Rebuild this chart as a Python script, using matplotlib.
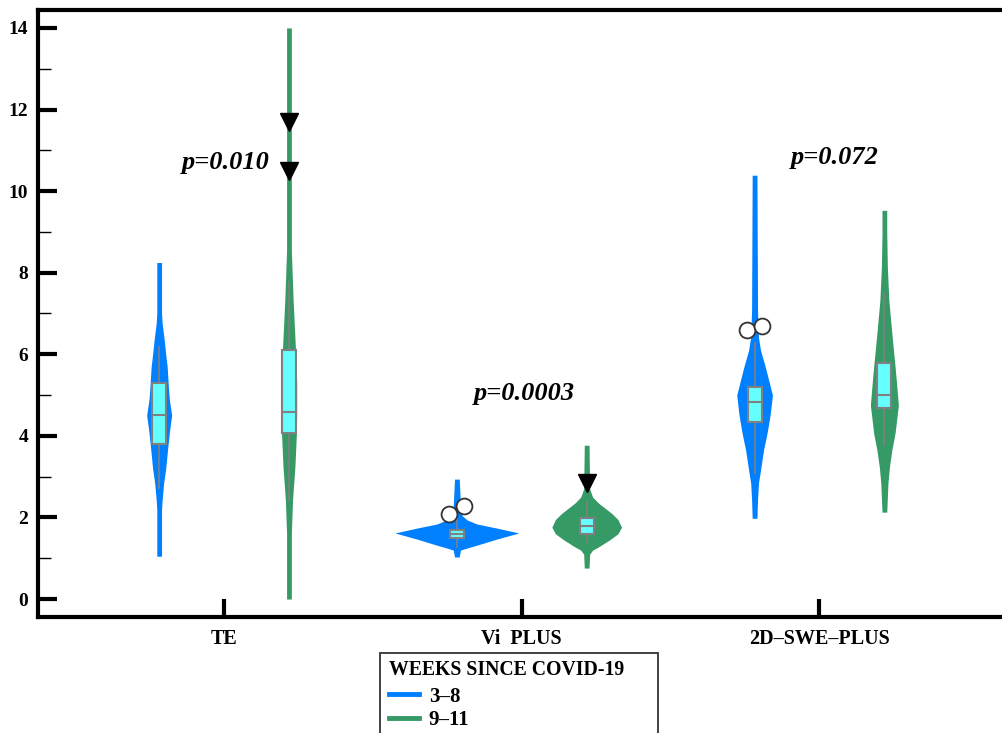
import numpy as np
import matplotlib.pyplot as plt
from matplotlib.lines import Line2D
from matplotlib.patches import Rectangle

plt.rcParams["font.family"] = ["Liberation Serif", "DejaVu Serif"]
plt.rcParams["font.weight"] = "bold"

# ==== data ====
categories = ["TE", "Vi  PLUS", "2D\u2013SWE\u2013PLUS"]
groups = ["3\u20138", "9\u201311"]
colors = ["#0080ff", "#359a66"]

# violin outlines: y values and half width (x-axis units)
te_a_y = [1.05, 2.2, 2.43, 2.84, 3.2, 3.65, 4.07, 4.51, 4.9, 5.2, 5.69, 6.0, 6.35, 6.76, 7.0, 8.25]
te_a_w = [0.008, 0.008, 0.010, 0.015, 0.022, 0.028, 0.034, 0.042, 0.034, 0.031, 0.027, 0.022, 0.017, 0.010, 0.008, 0.008]
te_b_y = [0.0, 1.6, 2.43, 3.24, 4.07, 4.6, 5.3, 6.1, 7.33, 8.14, 8.55, 14.0]
te_b_w = [0.008, 0.008, 0.012, 0.020, 0.025, 0.026, 0.026, 0.022, 0.014, 0.010, 0.008, 0.008]
vi_a_y = [1.03, 1.2, 1.25, 1.32, 1.47, 1.62, 1.74, 1.84, 1.94, 2.05, 2.3, 2.94]
vi_a_w = [0.008, 0.012, 0.034, 0.067, 0.134, 0.208, 0.134, 0.067, 0.034, 0.017, 0.012, 0.008]
vi_b_y = [0.76, 1.1, 1.2, 1.28, 1.45, 1.6, 1.76, 1.95, 2.1, 2.35, 2.5, 2.7, 3.77]
vi_b_w = [0.008, 0.010, 0.020, 0.040, 0.077, 0.105, 0.117, 0.105, 0.084, 0.040, 0.020, 0.010, 0.008]
swe_a_y = [1.98, 2.43, 2.84, 3.16, 3.65, 4.07, 4.5, 5.0, 5.69, 6.1, 6.42, 7.08, 10.39]
swe_a_w = [0.008, 0.010, 0.013, 0.020, 0.030, 0.042, 0.052, 0.060, 0.036, 0.020, 0.013, 0.010, 0.008]
swe_b_y = [2.13, 2.84, 3.24, 3.65, 4.07, 4.75, 5.2, 5.69, 6.52, 7.33, 8.14, 8.97, 9.53]
swe_b_w = [0.008, 0.012, 0.017, 0.025, 0.036, 0.047, 0.042, 0.036, 0.025, 0.015, 0.010, 0.008, 0.008]

# box stats: whislo, q1, med, q3, whishi
te_a_box = [2.72, 3.80, 4.51, 5.29, 6.18]
te_b_box = [2.43, 4.07, 4.58, 6.10, 7.77]
vi_a_box = [1.28, 1.50, 1.59, 1.69, 2.00]
vi_b_box = [1.40, 1.59, 1.79, 1.98, 2.38]
swe_a_box = [3.09, 4.34, 4.83, 5.20, 6.27]
swe_b_box = [3.77, 4.68, 5.00, 5.78, 7.50]

# hollow outliers (value, jitter) and arrow markers
vi_a_out = [2.08, 2.28]
swe_a_out = [6.59, 6.69]
out_jitter = [-0.025, 0.025]
te_b_arrows = [11.7, 10.5]
vi_b_arrows = [2.84]

p_labels = ["p=0.010", "p=0.0003", "p=0.072"]
p_y = [10.69, 5.05, 10.83]

violins = [[(te_a_y, te_a_w), (te_b_y, te_b_w)],
           [(vi_a_y, vi_a_w), (vi_b_y, vi_b_w)],
           [(swe_a_y, swe_a_w), (swe_b_y, swe_b_w)]]
boxes = [[te_a_box, te_b_box], [vi_a_box, vi_b_box], [swe_a_box, swe_b_box]]
offsets = [-0.218, 0.218]
p_x = [0.005, 1.01, 2.05]

fig = plt.figure(figsize=(10.03, 7.33), dpi=100)
ax = fig.add_axes([38 / 1003, 1 - 617 / 733, 972 / 1003, 607 / 733])

for i in range(3):
    for j in range(2):
        x0 = i + offsets[j]
        vy, vw = violins[i][j]
        vy = np.array(vy)
        vw = np.array(vw)
        ax.fill_betweenx(vy, x0 - vw, x0 + vw, color=colors[j], lw=0, zorder=2)
        lo, q1, med, q3, hi = boxes[i][j]
        stats = [{"whislo": lo, "q1": q1, "med": med, "q3": q3, "whishi": hi, "fliers": []}]
        ax.bxp(stats, positions=[x0], widths=0.047, patch_artist=True, showcaps=False,
               boxprops=dict(facecolor="#66ffff", edgecolor="#808080", lw=1.5),
               medianprops=dict(color="#808080", lw=1.5),
               whiskerprops=dict(color="#808080", lw=1.2), manage_ticks=False, zorder=3)

for vals, xc in [(vi_a_out, 1 + offsets[0]), (swe_a_out, 2 + offsets[0])]:
    ax.scatter(xc + np.array(out_jitter), vals, s=130, facecolor="white",
               edgecolor="#333333", lw=1.3, zorder=5)
ax.plot([0 + offsets[1]] * len(te_b_arrows), te_b_arrows, "v", color="black", ms=13, zorder=5)
ax.plot([1 + offsets[1]] * len(vi_b_arrows), vi_b_arrows, "v", color="black", ms=13, zorder=5)

for k in range(3):
    ax.text(p_x[k], p_y[k], p_labels[k], ha="center", va="center", fontsize=19,
            fontstyle="italic", fontweight="bold")

ax.set_xlim(-0.625, 2.64)
ax.set_ylim(-0.44, 14.44)
ax.set_xticks(range(3))
ax.set_xticklabels(categories, fontsize=14.5, fontweight="bold")
ax.set_yticks(range(0, 15, 2))
ax.set_yticks(range(1, 15, 2), minor=True)
ax.tick_params(axis="y", which="major", direction="in", length=14, width=3, labelsize=14, pad=7)
ax.tick_params(axis="y", which="minor", direction="in", length=9, width=1)
ax.tick_params(axis="x", direction="in", length=13, width=3, pad=9)
for s in ["left", "bottom", "top"]:
    ax.spines[s].set_linewidth(3)
ax.spines["right"].set_visible(False)

handles = [Line2D([], [], color=c, lw=3.5) for c in colors]
leg = fig.legend(handles, groups, title="WEEKS SINCE COVID-19", loc="upper left",
                 bbox_to_anchor=(382 / 1003, 1 - 653 / 733), frameon=False,
                 fontsize=15, title_fontsize=14.2, alignment="left",
                 handlelength=1.45, handletextpad=0.45, borderaxespad=0,
                 labelspacing=0.18, borderpad=0.35)
leg.get_title().set_fontweight("bold")
for t in leg.get_texts():
    t.set_fontweight("bold")
leg._legend_box.sep = 4.5
fig.patches.append(Rectangle((380 / 1003, -0.02), 278 / 1003, 0.02 + 80 / 733,
                             transform=fig.transFigure, fill=False,
                             edgecolor="#333333", lw=1.3))

fig.savefig("out.png", dpi=100)
